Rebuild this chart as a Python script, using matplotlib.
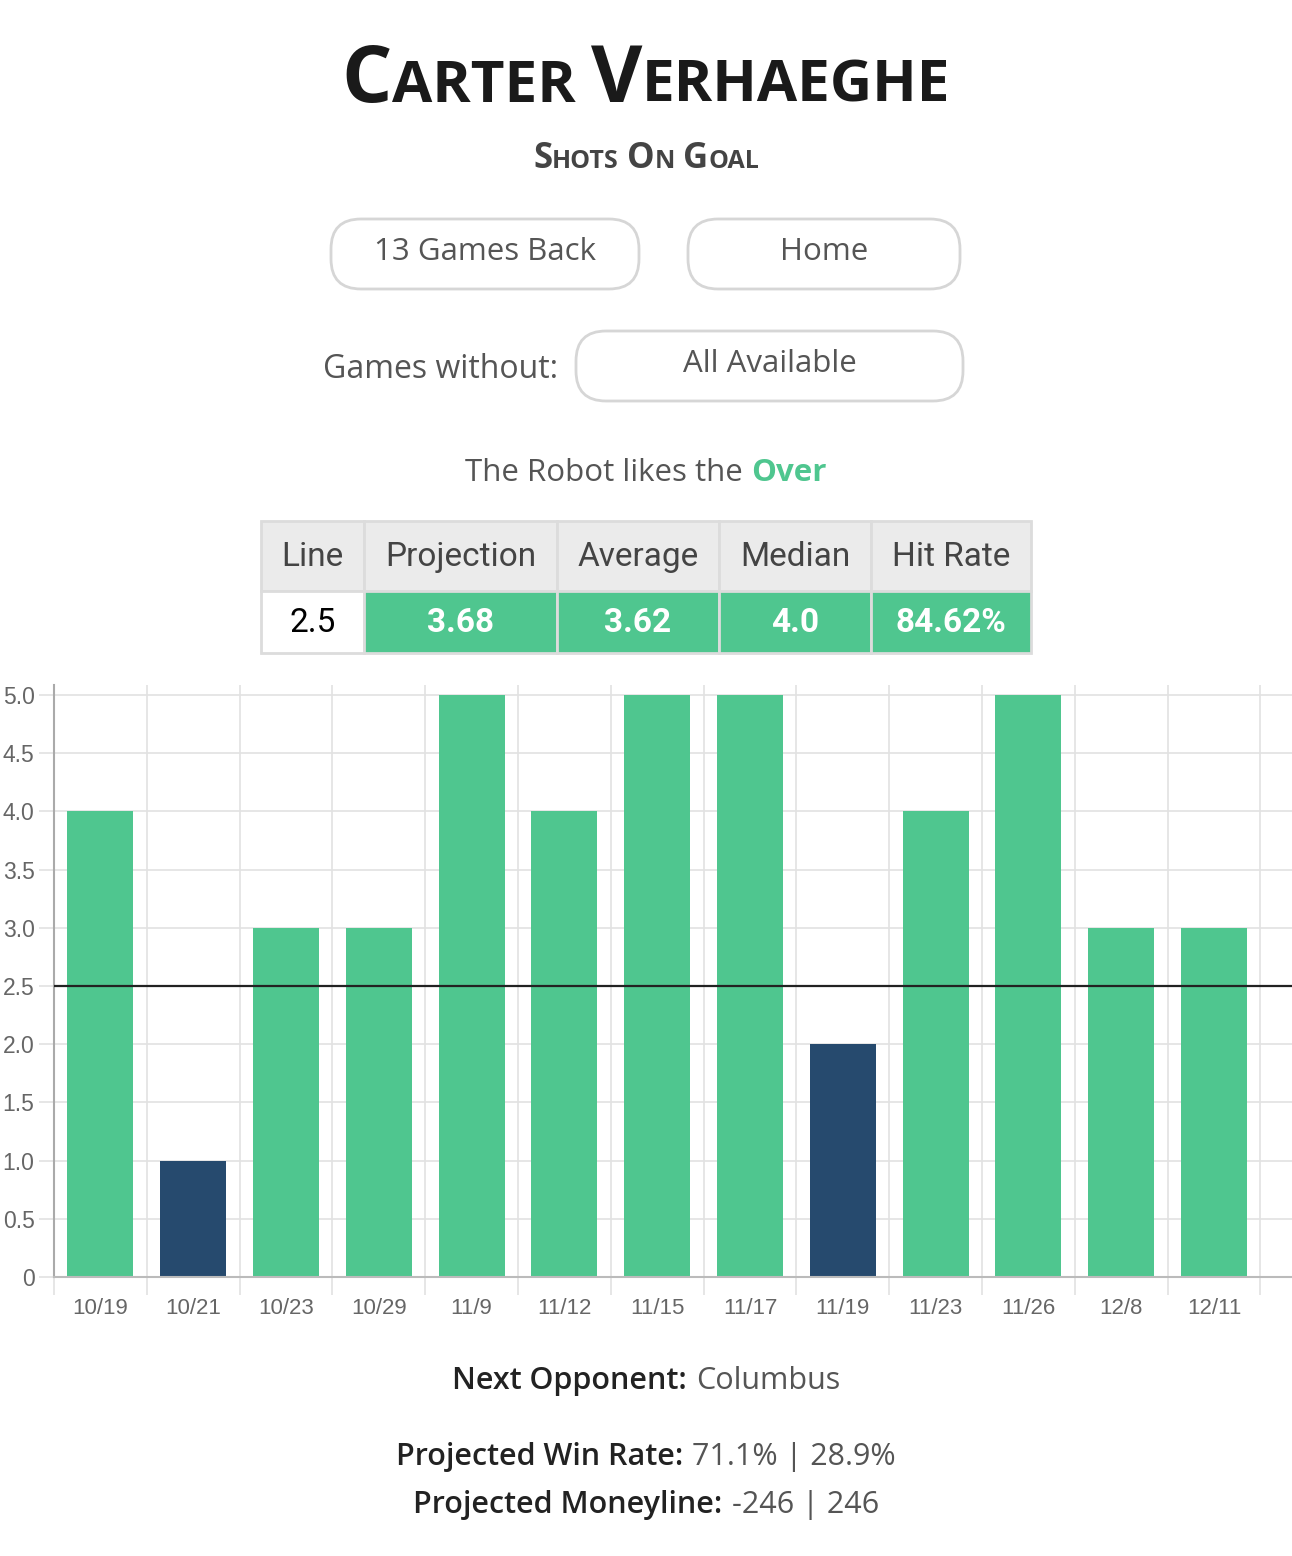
import matplotlib.pyplot as plt
from matplotlib.patches import Rectangle, FancyBboxPatch
from matplotlib.transforms import IdentityTransform

# data
dates = ["10/19", "10/21", "10/23", "10/29", "11/9", "11/12", "11/15",
         "11/17", "11/19", "11/23", "11/26", "12/8", "12/11"]
shots = [4, 1, 3, 3, 5, 4, 5, 5, 2, 4, 5, 3, 3]
line_value = 2.5
table_headers = ["Line", "Projection", "Average", "Median", "Hit Rate"]
table_values = ["2.5", "3.68", "3.62", "4.0", "84.62%"]
yticks = [0, 0.5, 1.0, 1.5, 2.0, 2.5, 3.0, 3.5, 4.0, 4.5, 5.0]
ytick_labels = ["0", "0.5", "1.0", "1.5", "2.0", "2.5", "3.0", "3.5", "4.0", "4.5", "5.0"]

GREEN = "#4fc68f"
NAVY = "#264a6e"
W, H = 1292, 1556
ident = IdentityTransform()

fig = plt.figure(figsize=(W / 100, H / 100), dpi=100)
renderer = fig.canvas.get_renderer()


def runs(parts, y, cx=646):
    # parts: (text, kwargs, gap before in px); placed on one baseline, centred
    ts, gaps = [], []
    for s, kw, gap in parts:
        t = fig.text(0, H - y, s, transform=ident, va="baseline", ha="left", **kw)
        ts.append(t)
        gaps.append(gap)
    widths = [t.get_window_extent(renderer).width for t in ts]
    total = sum(widths) + sum(gaps)
    x = cx - total / 2
    for t, w, g in zip(ts, widths, gaps):
        x += g
        t.set_x(x)
        x += w


def box(x0, y0, x1, y1, fc="white", ec="#d6d6d6", lw=2, rounded=0):
    if rounded:
        p = FancyBboxPatch((x0, H - y1), x1 - x0, y1 - y0,
                           boxstyle="round,pad=0,rounding_size=%d" % rounded,
                           fc=fc, ec=ec, lw=lw, transform=ident)
    else:
        p = Rectangle((x0, H - y1), x1 - x0, y1 - y0, fc=fc, ec=ec, lw=lw,
                      transform=ident)
    fig.add_artist(p)


# title in small caps
tb = dict(family="Open Sans", weight="bold", color="#1a1a1a")
runs([("C", dict(tb, size=57), 0), ("ARTER", dict(tb, size=42), 0),
      ("V", dict(tb, size=57), 15), ("ERHAEGHE", dict(tb, size=42), 0)], 102)
sb = dict(family="Open Sans", weight="bold", color="#444444")
runs([("S", dict(sb, size=25), 0), ("HOTS", dict(sb, size=18), 0),
      ("O", dict(sb, size=25), 8), ("N", dict(sb, size=18), 0),
      ("G", dict(sb, size=25), 8), ("OAL", dict(sb, size=18), 0)], 168)

# buttons
box(331, 219, 639, 289, rounded=30)
box(688, 219, 960, 289, rounded=30)
box(576, 331, 963, 401, rounded=30)
reg = dict(family="Open Sans", color="#555555")
fig.text(485, H - 252, "13 Games Back", transform=ident, ha="center", va="center", size=22.5, **reg)
fig.text(824, H - 252, "Home", transform=ident, ha="center", va="center", size=22.5, **reg)
fig.text(770, H - 364, "All Available", transform=ident, ha="center", va="center", size=22.5, **reg)
fig.text(558, H - 370, "Games without:", transform=ident, ha="right", va="center", size=23, **reg)

runs([("The Robot likes the", dict(reg, size=22.5), 0),
      ("Over", dict(family="Open Sans", weight="bold", color=GREEN, size=22.5), 8)], 481)

# table
col_edges = [261, 364, 557, 719, 871, 1031]
for i in range(len(table_headers)):
    x0, x1 = col_edges[i], col_edges[i + 1]
    box(x0, 521, x1, 591, fc="#ebebeb", ec="#dcdcdc")
    fig.text((x0 + x1) / 2, H - 557, table_headers[i], transform=ident, ha="center",
             va="center", size=24, family="Roboto", color="#444444")
    if i == 0:
        box(x0, 591, x1, 653, fc="white", ec="#dcdcdc")
        fig.text((x0 + x1) / 2, H - 623, table_values[i], transform=ident, ha="center",
                 va="center", size=24, family="Roboto", color="black")
    else:
        box(x0, 591, x1, 653, fc=GREEN, ec="#dcdcdc")
        fig.text((x0 + x1) / 2, H - 623, table_values[i], transform=ident, ha="center",
                 va="center", size=24, family="Roboto", weight="bold", color="white")

# chart
ax = fig.add_axes([54 / W, 279 / H, (W - 54) / W, (1277 - 685) / H])
x = list(range(len(dates)))
colors = [GREEN if v > line_value else NAVY for v in shots]
ax.bar(x, shots, width=0.71, color=colors, zorder=2)
ax.axhline(line_value, color="#222222", lw=1.6, zorder=3)
ax.set_xlim(-0.5, (W - 54) / 92.8 - 0.5)
ax.set_ylim(0, (1277 - 685) / 116.4)
ax.set_yticks(yticks)
ax.set_yticklabels(ytick_labels)
ax.set_xticks(x)
ax.set_xticklabels(dates)
ax.set_xticks([i - 0.5 for i in range(len(dates) + 1)], minor=True)
ax.grid(axis="y", which="major", color="#e2e2e2", lw=1.2, zorder=0)
ax.grid(axis="x", which="minor", color="#e2e2e2", lw=1.2, zorder=0)
ax.tick_params(axis="x", which="major", length=0, pad=15, labelsize=16, labelcolor="#666666")
ax.tick_params(axis="x", which="minor", length=13, color="#e2e2e2", width=1.2)
ax.tick_params(axis="y", length=11, color="#e2e2e2", width=1.2, pad=3, labelsize=16.5,
               labelcolor="#666666")
for lab in ax.get_xticklabels() + ax.get_yticklabels():
    lab.set_family("Liberation Sans")
for s in ["top", "right"]:
    ax.spines[s].set_visible(False)
ax.spines["left"].set_color("#aaaaaa")
ax.spines["left"].set_linewidth(1.5)
ax.spines["bottom"].set_color("#bbbbbb")
ax.spines["bottom"].set_linewidth(1.5)

# footer
bold = dict(family="Open Sans", weight=600, color="#222222", size=22)
light = dict(family="Open Sans", color="#555555", size=22)
runs([("Next Opponent:", bold, 0), ("Columbus", light, 9)], 1389)
runs([("Projected Win Rate:", bold, 0), ("71.1% | 28.9%", light, 9)], 1465)
runs([("Projected Moneyline:", bold, 0), ("-246 | 246", light, 9)], 1513)

fig.savefig("out.png", dpi=100)
